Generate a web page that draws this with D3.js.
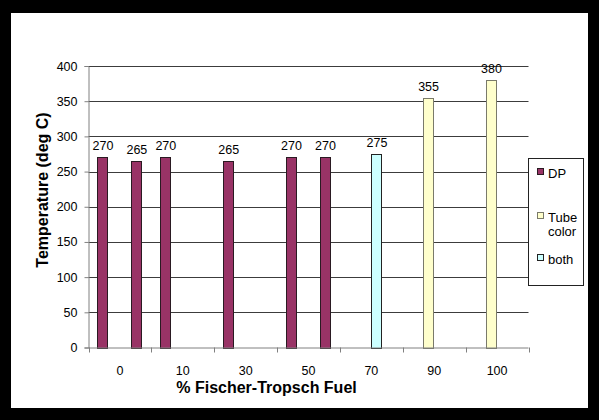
<!DOCTYPE html>
<html>
<head>
<meta charset="utf-8">
<script src="https://cdn.jsdelivr.net/npm/d3@7"></script>
<style>
  html, body { margin: 0; padding: 0; background: #000; }
  svg { display: block; }
  text { font-family: "Liberation Sans", Arial, sans-serif; }
</style>
</head>
<body>
<script>
// Fuel blends (% Fischer-Tropsch) along the x axis
const categories = ["0", "10", "30", "50", "70", "90", "100"];

// Series order inside each cluster
const seriesKeys = ["dp", "tube", "both", "dp2"];

// Temperatures (deg C) per series; null where a series has no bar
const dpValues   = [270, 270, 265, 270, null, null, null];
const tubeValues = [null, null, null, null, null, 355, 380];
const bothValues = [null, null, null, null, 275, null, null];
const dp2Values  = [265, null, null, 270, null, null, null];

const yTicks = [0, 50, 100, 150, 200, 250, 300, 350, 400];

const fills   = { dp: "#993366", tube: "#FFFFCC", both: "#CCFFFF", dp2: "#993366" };
const strokes = { dp: "#2a1a22", tube: "#7a7a6a", both: "#222222", dp2: "#2a1a22" };

const valuesBySeries = { dp: dpValues, tube: tubeValues, both: bothValues, dp2: dp2Values };

const W = 599, H = 420;
const svg = d3.select("body").append("svg").attr("width", W).attr("height", H);

// white chart area inside the black frame
svg.append("rect").attr("x", 0).attr("y", 0).attr("width", W).attr("height", H).attr("fill", "#000");
svg.append("rect").attr("x", 11).attr("y", 13).attr("width", 577).attr("height", 395).attr("fill", "#fff");

const plot = { left: 88.5, right: 528.5, top: 66, bottom: 347.5 };

const x = d3.scaleBand().domain(categories).range([plot.left, plot.right]).paddingInner(0).paddingOuter(0);
const xs = d3.scaleBand().domain(seriesKeys).range([0, x.bandwidth()]).paddingInner(0).paddingOuter(0.78);
const y = d3.scaleLinear().domain([0, 400]).range([plot.bottom, plot.top]);

// horizontal gridlines
svg.append("g").selectAll("line").data(yTicks.filter(t => t > 0)).join("line")
  .attr("x1", plot.left).attr("x2", plot.right)
  .attr("y1", d => Math.round(y(d)) + 0.5).attr("y2", d => Math.round(y(d)) + 0.5)
  .attr("stroke", "#3c3c3c").attr("stroke-width", 1);

// bars
const barData = [];
seriesKeys.forEach(k => {
  valuesBySeries[k].forEach((v, i) => {
    if (v != null) barData.push({ key: k, cat: categories[i], value: v });
  });
});

svg.append("g").selectAll("rect").data(barData).join("rect")
  .attr("x", d => Math.round(x(d.cat) + xs(d.key)) + 0.5)
  .attr("y", d => Math.round(y(d.value)) + 0.5)
  .attr("width", Math.round(xs.bandwidth()) - 1)
  .attr("height", d => Math.round(y(0)) - Math.round(y(d.value)))
  .attr("fill", d => fills[d.key])
  .attr("stroke", d => strokes[d.key])
  .attr("stroke-width", 1);

// value labels
svg.append("g").selectAll("text").data(barData).join("text")
  .attr("x", d => x(d.cat) + xs(d.key) + xs.bandwidth() / 2)
  .attr("y", d => y(d.value) - 7)
  .attr("text-anchor", "middle")
  .attr("font-size", 12.5)
  .attr("fill", "#000")
  .text(d => d.value);

// y axis
const yAxis = d3.axisLeft(y).tickValues(yTicks).tickSize(4).tickPadding(7);
const gy = svg.append("g").attr("transform", `translate(${plot.left},0)`).call(yAxis);
gy.select(".domain").attr("stroke", "#808080");
gy.selectAll(".tick line").attr("stroke", "#808080");
gy.selectAll(".tick text").attr("font-size", 12.5).attr("font-family", "Liberation Sans, Arial, sans-serif").attr("fill", "#000");

// x axis: ticks at category boundaries, labels centred in each category
const gx = svg.append("g").attr("transform", `translate(0,${plot.bottom})`);
gx.append("line").attr("x1", plot.left).attr("x2", plot.right).attr("y1", 0.5).attr("y2", 0.5).attr("stroke", "#808080");
const boundaries = categories.map(c => x(c)).concat([plot.right]);
gx.selectAll("line.tk").data(boundaries).join("line").attr("class", "tk")
  .attr("x1", d => Math.round(d) + 0.5).attr("x2", d => Math.round(d) + 0.5)
  .attr("y1", 0).attr("y2", 5).attr("stroke", "#808080");
gx.selectAll("text").data(categories).join("text")
  .attr("x", d => x(d) + x.bandwidth() / 2)
  .attr("y", 27)
  .attr("text-anchor", "middle")
  .attr("font-size", 12.5)
  .text(d => d);

// axis titles
svg.append("text")
  .attr("x", 266.5)
  .attr("y", 392.5)
  .attr("text-anchor", "middle")
  .attr("font-size", 16).attr("font-weight", "bold")
  .text("% Fischer-Tropsch Fuel");

svg.append("text")
  .attr("transform", "translate(47.5,190) rotate(-90)")
  .attr("text-anchor", "middle")
  .attr("font-size", 16).attr("font-weight", "bold")
  .text("Temperature (deg C)");

// legend
const lg = svg.append("g");
lg.append("rect").attr("x", 528.5).attr("y", 158.5).attr("width", 55).attr("height", 127)
  .attr("fill", "#fff").attr("stroke", "#222");
const legendRows = [
  { key: "dp", lines: ["DP"], y: 173 },
  { key: "tube", lines: ["Tube", "color"], y: 217 },
  { key: "both", lines: ["both"], y: 259 }
];
legendRows.forEach(r => {
  lg.append("rect").attr("x", 537.5).attr("y", r.y - 4.5).attr("width", 6).attr("height", 6)
    .attr("fill", fills[r.key]).attr("stroke", strokes[r.key]);
  const t = lg.append("text").attr("x", 548).attr("y", r.y + 4.5).attr("font-size", 13);
  r.lines.forEach((ln, i) => {
    t.append("tspan").attr("x", 548).attr("dy", i === 0 ? 0 : 14.5).text(ln);
  });
});
</script>
</body>
</html>
